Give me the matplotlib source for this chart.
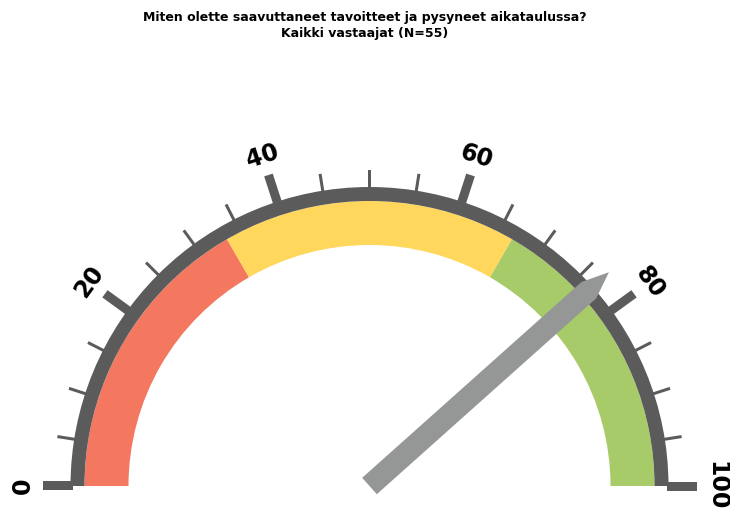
import numpy as np
import matplotlib
matplotlib.use("Agg")
import matplotlib.pyplot as plt
from matplotlib.patches import Wedge, Polygon

# ---- data ----
title_lines = ["Miten olette saavuttaneet tavoitteet ja pysyneet aikataulussa?",
               "Kaikki vastaajat (N=55)"]
band_edges = [0, 33.33, 66.67, 100]
band_colors = ["#F4785F", "#FFD75C", "#A8CB69"]
major_ticks = [0, 20, 40, 60, 80, 100]
major_labels = ["0", "20", "40", "60", "80", "100"]
minor_ticks = [v for v in range(0, 101, 5) if v % 20 != 0]
needle_value = 76.8
vmin, vmax = 0, 100

# ---- geometry (pixel-like units, centre at origin) ----
R_IN, R_BAND, R_OUT = 241, 285, 299
MAJ_LEN, MIN_LEN = 28, 17
MAJ_W, MIN_W = 9, 3
LABEL_R = 347
NEEDLE_LEN, NEEDLE_SHOULDER, NEEDLE_W = 321, 294, 22
DARK = "#5B5B5B"

def ang(v):
    return 180.0 - (v - vmin) / (vmax - vmin) * 180.0

fig = plt.figure(figsize=(7.30, 5.13), dpi=100)
ax = fig.add_axes([0, 0, 1, 1])
ax.set_xlim(-369.5, 730 - 369.5)
ax.set_ylim(486 - 513, 486)
ax.set_aspect("equal")
ax.axis("off")

# colour bands
for lo, hi, c in zip(band_edges[:-1], band_edges[1:], band_colors):
    ax.add_patch(Wedge((0, 0), R_BAND, ang(hi), ang(lo), width=R_BAND - R_IN,
                       facecolor=c, edgecolor="none"))
# dark rim
ax.add_patch(Wedge((0, 0), R_OUT, 0, 180, width=R_OUT - R_BAND,
                   facecolor=DARK, edgecolor="none"))

def tick_poly(v, r0, r1, w, color):
    a = np.radians(ang(v))
    d = np.array([np.cos(a), np.sin(a)])
    n = np.array([-np.sin(a), np.cos(a)])
    pts = [r0 * d + n * w / 2, r1 * d + n * w / 2, r1 * d - n * w / 2, r0 * d - n * w / 2]
    ax.add_patch(Polygon(pts, closed=True, facecolor=color, edgecolor="none"))

for v in minor_ticks:
    tick_poly(v, R_OUT - 2, R_OUT + MIN_LEN, MIN_W, DARK)
for v, lab in zip(major_ticks, major_labels):
    tick_poly(v, R_OUT - 2, R_OUT + MAJ_LEN, MAJ_W, DARK)
    a = ang(v)
    ar = np.radians(a)
    ax.text(LABEL_R * np.cos(ar), LABEL_R * np.sin(ar), lab, rotation=a - 90,
            rotation_mode="anchor", ha="center", va="center",
            fontsize=17, fontweight="bold", color="black", family="DejaVu Sans")

# needle
a = np.radians(ang(needle_value))
d = np.array([np.cos(a), np.sin(a)])
n = np.array([-np.sin(a), np.cos(a)])
pts = [n * NEEDLE_W / 2, NEEDLE_SHOULDER * d + n * NEEDLE_W / 2, NEEDLE_LEN * d,
       NEEDLE_SHOULDER * d - n * NEEDLE_W / 2, -n * NEEDLE_W / 2]
ax.add_patch(Polygon(pts, closed=True, facecolor="#959796", edgecolor="none", zorder=5))

fig.text(0.5, 1 - 17 / 513, title_lines[0], ha="center", va="center",
         fontsize=9, fontweight="bold", family="DejaVu Sans")
fig.text(0.5, 1 - 33 / 513, title_lines[1], ha="center", va="center",
         fontsize=9, fontweight="bold", family="DejaVu Sans")

fig.savefig("out.png", dpi=100, facecolor="white")
